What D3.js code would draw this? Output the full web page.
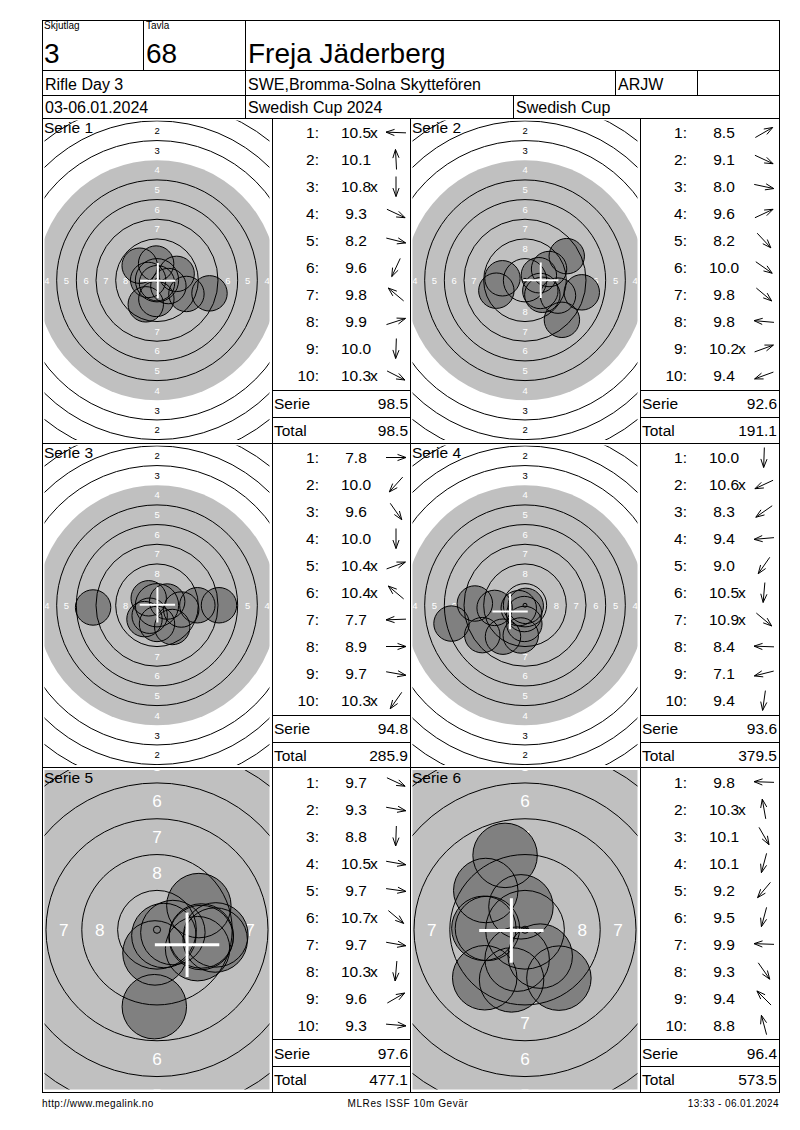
<!DOCTYPE html>
<html><head><meta charset="utf-8">
<script src="https://cdn.jsdelivr.net/npm/d3@7"></script>
<style>
body{margin:0;background:#fff}
svg{display:block}
text{font-family:"Liberation Sans",Arial,sans-serif;fill:#000}
</style>
</head><body>
<svg id="c" width="800" height="1130"></svg>
<script>
// ---------------- DATA ----------------
const squad = "3";
const lane = "68";
const shooterName = "Freja Jäderberg";
const eventName = "Rifle Day 3";
const clubName = "SWE,Bromma-Solna Skyttefören";
const classCode = "ARJW";
const dateText = "03-06.01.2024";
const competition = "Swedish Cup 2024";
const cupName = "Swedish Cup";
const footerLeft = "http://www.megalink.no";
const footerMid = "MLRes ISSF 10m Gevär";
const footerRight = "13:33 - 06.01.2024";

const seriesNames = ["Serie 1","Serie 2","Serie 3","Serie 4","Serie 5","Serie 6"];
const shots1 = ["10.5x","10.1","10.8x","9.3","8.2","9.6","9.8","9.9","10.0","10.3x"];
const shots2 = ["8.5","9.1","8.0","9.6","8.2","10.0","9.8","9.8","10.2x","9.4"];
const shots3 = ["7.8","10.0","9.6","10.0","10.4x","10.4x","7.7","8.9","9.7","10.3x"];
const shots4 = ["10.0","10.6x","8.3","9.4","9.0","10.5x","10.9x","8.4","7.1","9.4"];
const shots5 = ["9.7","9.3","8.8","10.5x","9.7","10.7x","9.7","10.3x","9.6","9.3"];
const shots6 = ["9.8","10.3x","10.1","10.1","9.2","9.5","9.9","9.3","9.4","8.8"];
// shot direction (degrees, counter-clockwise from "right"), read from the arrows
const dir1 = [178, 93, 270, 335, 346, 245, 140, 18, 268, 333];
const dir2 = [30, 335, 348, 25, 313, 325, 320, 175, 20, 200];
const dir3 = [0, 228, 305, 270, 20, 140, 182, 0, 350, 235];
const dir4 = [268, 205, 215, 185, 235, 265, 320, 178, 194, 262];
const dir5 = [335, 350, 268, 350, 352, 320, 350, 265, 30, 355];
const dir6 = [178, 100, 300, 255, 230, 255, 178, 305, 135, 105];
const serieSums = ["98.5","92.6","94.8","93.6","97.6","96.4"];
const runningTotals = ["98.5","191.1","285.9","379.5","477.1","573.5"];
// group centre (white cross), mm right / mm up
const mpiX = [0.1, 2.0, 0.05, -1.9, 2.1, -0.95];
const mpiY = [-0.05, 0.0, 0.05, -0.8, -1.05, -0.05];
// target magnification per series
const zoomFactor = [1, 1, 1, 1, 1.82, 1.82];

const allShots = [shots1,shots2,shots3,shots4,shots5,shots6];
const allDirs = [dir1,dir2,dir3,dir4,dir5,dir6];

// ISSF 10m air rifle geometry (mm)
const ringRadius = k => k === 10 ? 0.25 : 22.75 - 2.5*(k-1);
const blackRadius = 15.25;
const pelletRadius = 2.25;

// ---------------- LAYOUT ----------------
const svg = d3.select("#c");
const L = 42, R = 779, T = 20, B = 1092;
const rowTops = [118, 443, 767.5];
const panelH = 324.5;
const targetCols = [[42,272],[410,640]];
const listCols = [[272,410],[640,779]];
const basePx = 7.87;

const gridG = svg.append("g").attr("stroke","#000").attr("stroke-width",1).attr("shape-rendering","crispEdges");
function hline(x0,x1,y){gridG.append("line").attr("x1",x0).attr("x2",x1).attr("y1",y).attr("y2",y);}
function vline(x,y0,y1){gridG.append("line").attr("x1",x).attr("x2",x).attr("y1",y0).attr("y2",y1);}
function txt(x,y,s,size,anchor){return svg.append("text").attr("x",x).attr("y",y).attr("font-size",size).attr("text-anchor",anchor||"start").text(s);}

const defs = svg.append("defs");

// ---------------- TARGETS + LISTS ----------------
seriesNames.forEach((name, s) => {
  const row = Math.floor(s/2), col = s%2;
  const [x0,x1] = targetCols[col];
  const top = rowTops[row], bot = top + panelH;
  const cx = (x0+x1)/2, cy = (top+bot)/2;
  const k = basePx*zoomFactor[s];
  const xs = d3.scaleLinear().domain([-1,1]).range([cx-k, cx+k]);
  const ys = d3.scaleLinear().domain([-1,1]).range([cy+k, cy-k]);
  const rs = d3.scaleLinear().domain([0,1]).range([0,k]);

  const clip = {x: x0+2.5, y: top+2.5, w: x1-x0-5, h: panelH-5};
  defs.append("clipPath").attr("id","clip"+s).append("rect")
    .attr("x",clip.x).attr("y",clip.y).attr("width",clip.w).attr("height",clip.h);
  const g = svg.append("g").attr("clip-path",`url(#clip${s})`);

  g.append("circle").attr("cx",xs(0)).attr("cy",ys(0)).attr("r",rs(blackRadius)).attr("fill","#c0c0c0");

  // ring numbers (only those that fall, at least partly, inside the panel)
  const fs = 1.2*k;
  const labels = [];
  d3.range(1,9).forEach(n => {
    const rm = (ringRadius(n)+ringRadius(n+1))/2;
    [[0,1],[0,-1],[-1,0],[1,0]].forEach(([dx,dy]) => labels.push({n, x: dx*rm, y: dy*rm}));
  });
  const visible = labels.filter(d => {
    const px = xs(d.x), py = ys(d.y);
    return px > clip.x - 0.2*fs && px < clip.x + clip.w + 0.2*fs &&
           py > clip.y - 0.3*fs && py < clip.y + clip.h + 0.3*fs;
  });
  g.selectAll("text.rl").data(visible).join("text")
    .attr("x",d=>xs(d.x)).attr("y",d=>ys(d.y))
    .attr("dy","0.36em")
    .attr("text-anchor","middle")
    .attr("font-size",fs)
    .style("fill",d=>d.n>=4?"#ffffff":"#000000")
    .text(d=>d.n);

  const shotData = allShots[s].map((lab,i) => {
    const v = parseFloat(lab);
    const r = Math.max(0,(10.95 - v)*2.5);
    const a = allDirs[s][i]*Math.PI/180;
    return {x: r*Math.cos(a), y: r*Math.sin(a)};
  });
  g.selectAll("circle.sf").data(shotData).join("circle")
    .attr("cx",d=>xs(d.x)).attr("cy",d=>ys(d.y)).attr("r",rs(pelletRadius))
    .attr("fill","#808080");

  // ring lines (ring 4 is the edge of the grey aiming mark)
  g.selectAll("circle.ring").data([1,2,3,5,6,7,8,9,10]).join("circle")
    .attr("cx",xs(0)).attr("cy",ys(0)).attr("r",d=>rs(ringRadius(d)))
    .attr("fill","none").attr("stroke","#000").attr("stroke-width",1);

  g.selectAll("circle.so").data(shotData).join("circle")
    .attr("cx",d=>xs(d.x)).attr("cy",d=>ys(d.y)).attr("r",rs(pelletRadius))
    .attr("fill","none").attr("stroke","#000").attr("stroke-width",1);

  // group centre cross
  const mx = mpiX[s], my = mpiY[s], h = pelletRadius;
  const sw = Math.max(2, 0.21*k);
  g.append("line").attr("x1",xs(mx-h)).attr("x2",xs(mx+h)).attr("y1",ys(my)).attr("y2",ys(my))
    .attr("stroke","#fff").attr("stroke-width",sw);
  g.append("line").attr("x1",xs(mx)).attr("x2",xs(mx)).attr("y1",ys(my-h)).attr("y2",ys(my+h))
    .attr("stroke","#fff").attr("stroke-width",sw);

  txt(x0+2, top+15, name, 15.5);

  // list
  const [lx0,lx1] = listCols[col];
  const rowY = d3.scaleLinear().domain([0,9]).range([top+14.5, top+14.5+27*9]);
  allShots[s].forEach((lab,i) => {
    const y = rowY(i);
    txt(lx0+47, y+5.5, (i+1)+":", 15.5, "end");
    const num = lab.replace("x","");
    txt(lx0+84, y+5.5, num, 15.5, "middle");
    if (lab.endsWith("x")) txt(lx0+84+14, y+5.5, "x", 15.5, "start");
    const a = allDirs[s][i]*Math.PI/180;
    const ax = lx0+124, len = 20;
    const ux = Math.cos(a), uy = -Math.sin(a);
    const hx = ax + ux*len/2, hy = y + uy*len/2;
    const tx = ax - ux*len/2, ty = y - uy*len/2;
    const ag = svg.append("g").attr("stroke","#000").attr("stroke-width",1).attr("fill","none");
    ag.append("line").attr("x1",tx).attr("y1",ty).attr("x2",hx).attr("y2",hy);
    [0.35,-0.35].forEach(o => {
      const b = Math.atan2(uy,ux) + Math.PI + o;
      ag.append("line").attr("x1",hx).attr("y1",hy).attr("x2",hx+9*Math.cos(b)).attr("y2",hy+9*Math.sin(b));
    });
  });
  hline(lx0, lx1, top+272);
  hline(lx0, lx1, top+299);
  txt(lx0+2, top+291, "Serie", 15.5);
  txt(lx1-2, top+291, serieSums[s], 15.5, "end");
  txt(lx0+2, top+317.5, "Total", 15.5);
  txt(lx1-2, top+317.5, runningTotals[s], 15.5, "end");
});

// ---------------- GRID ----------------
gridG.append("rect").attr("x",L).attr("y",T).attr("width",R-L).attr("height",B-T).attr("fill","none");
hline(L,R,70); hline(L,R,95); hline(L,R,118);
vline(143,T,70); vline(245,T,118);
vline(615,70,95); vline(697,70,95); vline(513,95,118);
hline(L,R,443); hline(L,R,767.5);
[272,410,640].forEach(x => vline(x,118,B));

// ---------------- HEADER TEXT ----------------
txt(44,29,"Skjutlag",10);
txt(146,29,"Tavla",10);
txt(44,63,squad,28);
txt(146,63,lane,28);
txt(248,63,shooterName,28);
txt(45,90,eventName,16);
txt(248,90,clubName,16);
txt(618,90,classCode,16);
txt(45,113,dateText,16);
txt(248,113,competition,16);
txt(516,113,cupName,16);

// ---------------- FOOTER ----------------
txt(42,1107,footerLeft,10).attr("letter-spacing",0.4);
txt(408,1107,footerMid,10,"middle").attr("letter-spacing",0.6);
txt(779,1107,footerRight,10,"end").attr("letter-spacing",0.4);
</script>
</body></html>
